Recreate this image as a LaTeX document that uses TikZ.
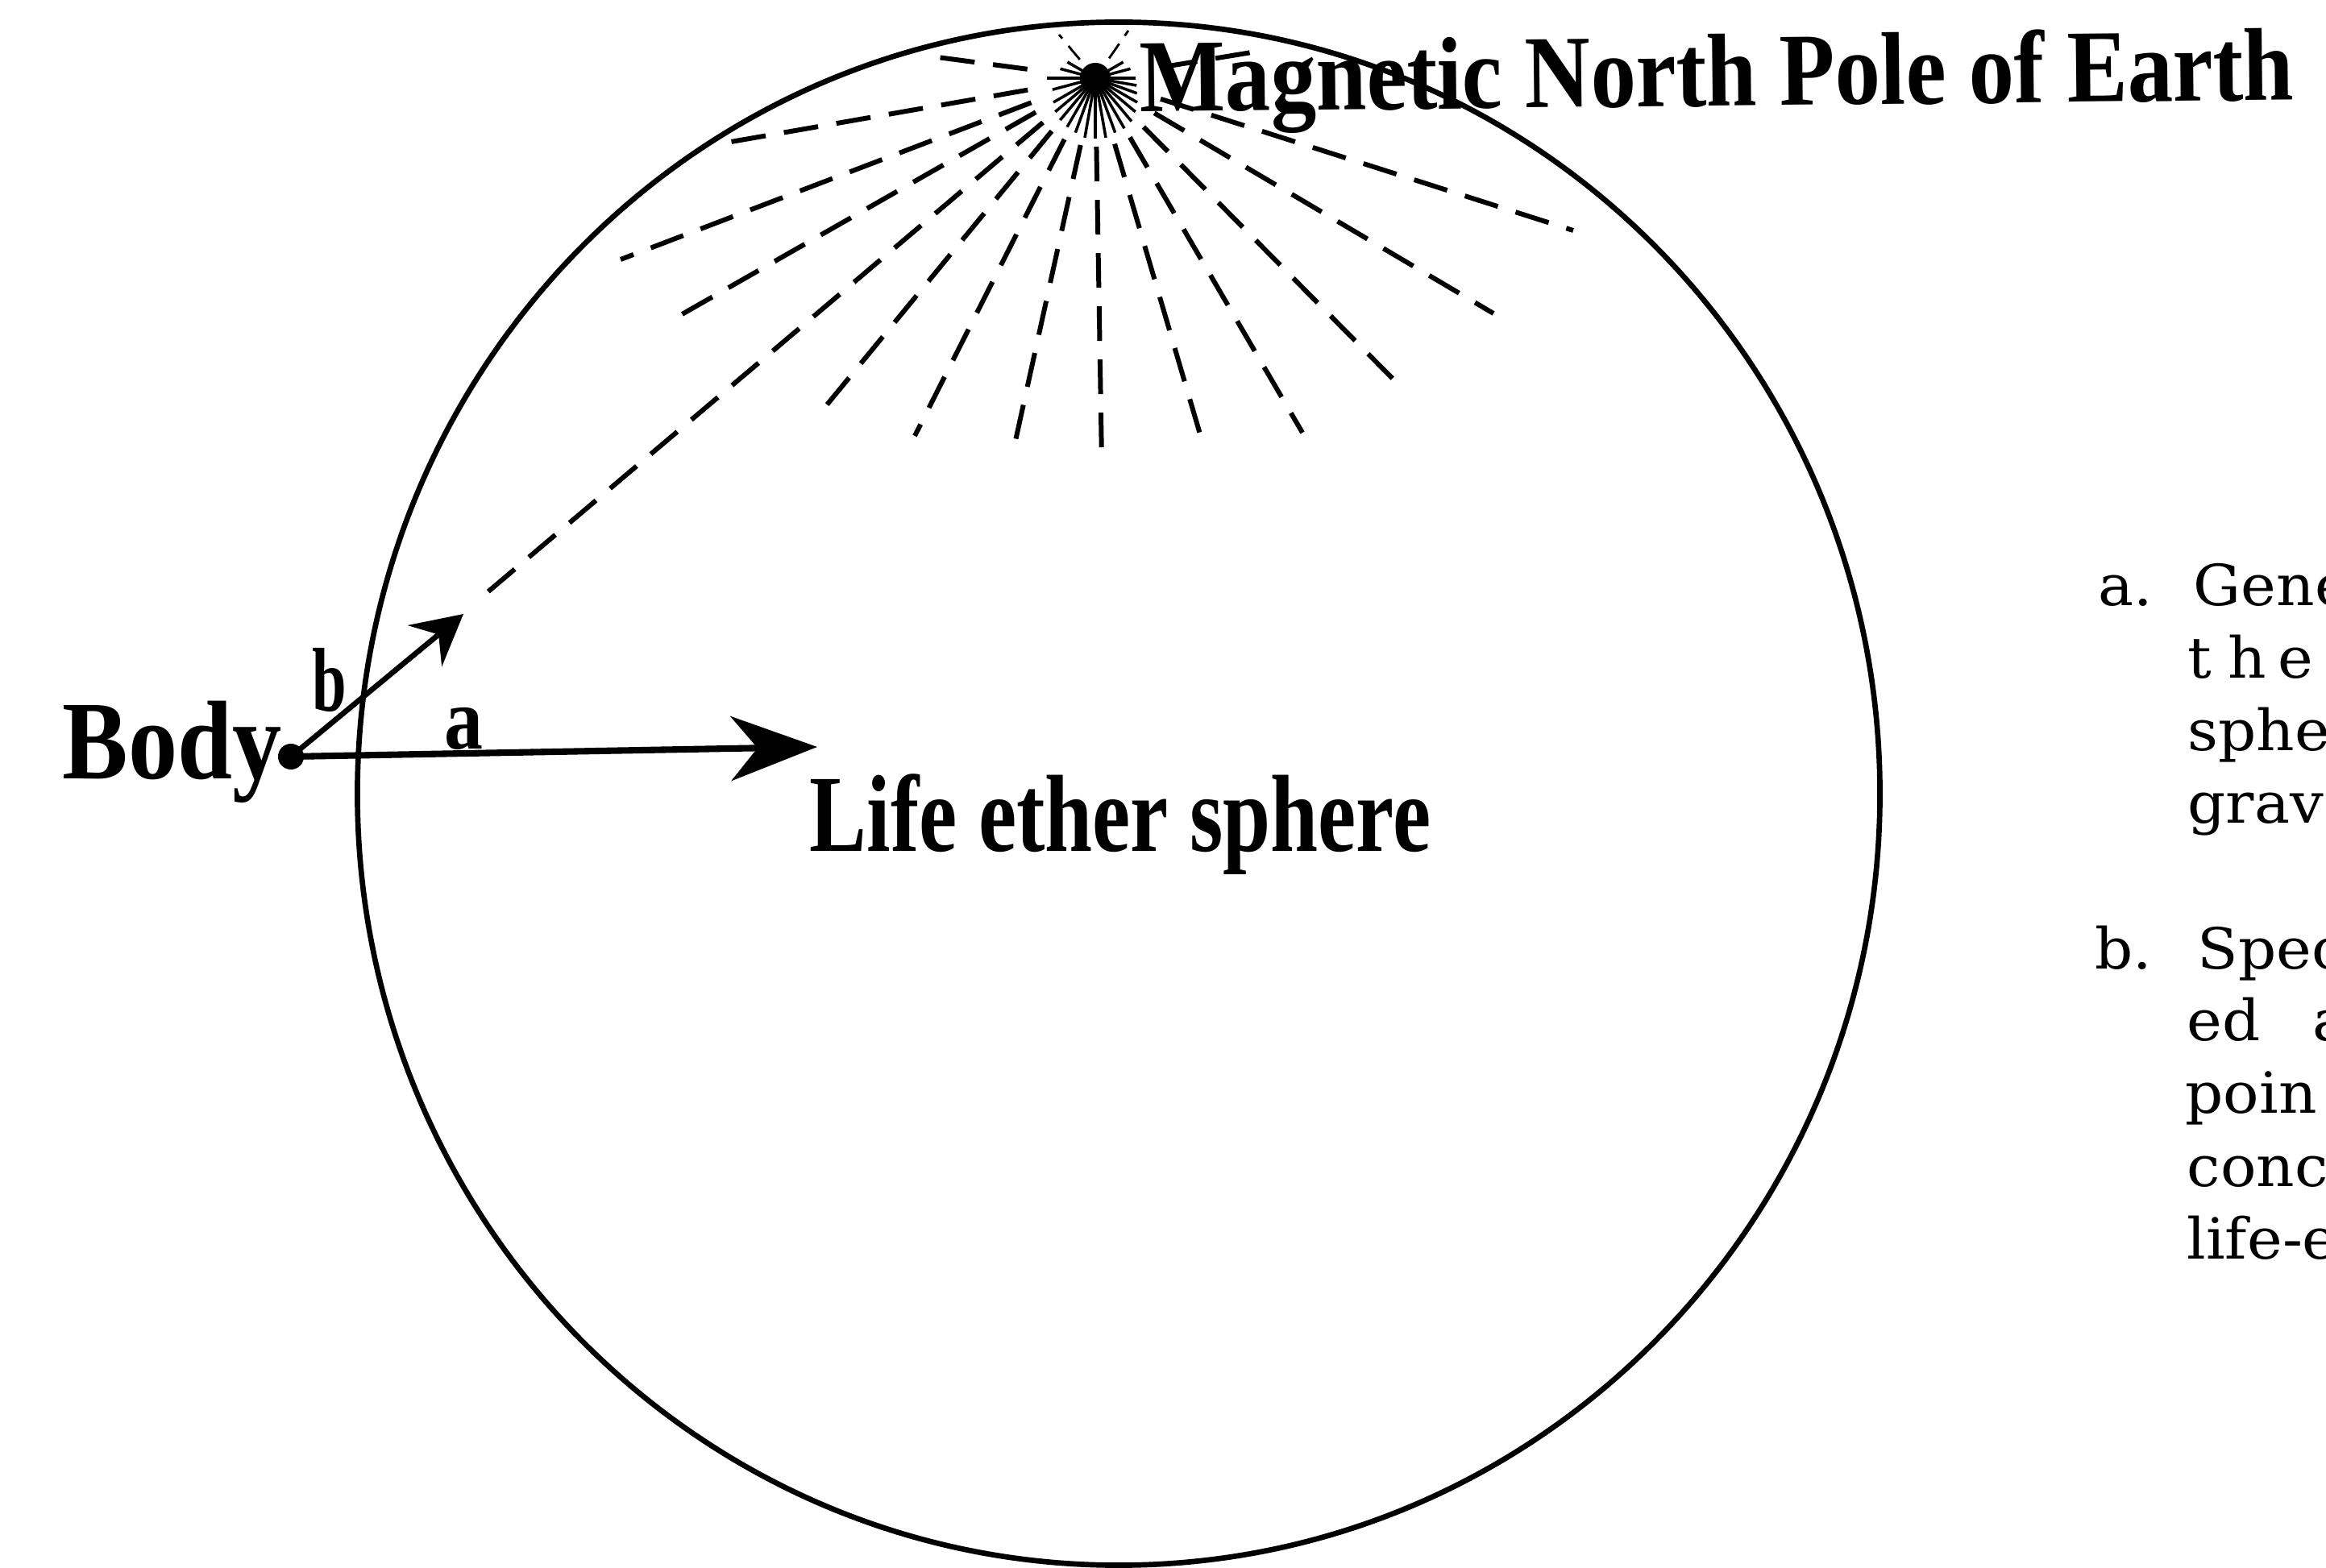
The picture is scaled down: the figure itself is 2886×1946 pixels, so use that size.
\documentclass[tikz,border=0pt]{standalone}
\usepackage{graphicx}
\usepackage{fontspec}
\setmainfont{Liberation Serif}
\newfontfamily\notefont{DejaVu Serif}
\usetikzlibrary{arrows.meta,calc}
\begin{document}
\begin{tikzpicture}[x=0.01cm,y=-0.01cm,
  rim/.style={line width=1.9pt},
  ray/.style={line width=1.7pt, dash pattern=on 0.43cm off 0.23cm},
  thinray/.style={line width=0.8pt, dash pattern=on 0.22cm off 0.12cm},
  spike/.style={line width=1pt},
  lbl/.style={inner sep=0pt, anchor=base west},
  note/.style={inner sep=0pt, anchor=base west, font=\notefont\fontsize{20pt}{24pt}\selectfont},
  bigarrow/.style={line width=2.3pt, -{Stealth[length=1.07cm,width=0.8cm,inset=0.33cm]}},
  smallarrow/.style={line width=1.9pt, -{Stealth[length=0.62cm,width=0.66cm,inset=0.22cm]}},
]
\useasboundingbox (0,0) rectangle (2886,1946);
\begin{scope}
\clip (0,0) rectangle (2886,1946);
% sphere
\draw[rim] (1388,985) ellipse [x radius=9.44cm, y radius=9.57cm];
% pole and rays
\coordinate (pole) at (1359,97);
\foreach \n/\x/\y in {1/1148/69, 2/907/176, 3/770/322, 4/841/393, 5/593/745,
  6/1023/506, 7/1135/541, 8/1256/565, 9/1367/573, 10/1492/549, 11/1616/537,
  12/1728/470, 13/1853/389, 14/1952/286, 15/1565/63, 16/1314/43, 17/1400/38}
  \coordinate (r\n) at (\x,\y);
\foreach \n in {1,...,15}
  \draw[ray] ($(pole)!0.85cm!(r\n)$) -- (r\n);
\foreach \n in {16,17}
  \draw[thinray] ($(pole)!0.3cm!(r\n)$) -- (r\n);
\fill (pole) circle [radius=0.19cm];
\foreach \a/\l in {0/50, 10/52, 20/55, 30/60, 40/65, 50/70, 60/72, 70/72, 80/75, 90/75, 100/75,
  110/72, 120/70, 130/68, 140/65, 150/60, 165/55, 180/60, 195/45, 210/40, 330/40, 345/45}
  \draw[spike] (pole) -- ++(\a:\l);
% body and arrows
\node[circle, fill, inner sep=0pt, minimum size=0.32cm] (body) at (361,939) {};
\coordinate (atip) at (1014,927);
\coordinate (btip) at (575,762);
\draw[bigarrow] (body.center) -- (atip);
\draw[smallarrow] (body.center) -- (btip);
% labels
\node[lbl, font=\bfseries\fontsize{31pt}{31pt}\selectfont] (la) at (551,930) {\scalebox{0.88}[1]{a}};
\node[lbl, font=\bfseries\fontsize{32pt}{32pt}\selectfont] (lb) at (387,883) {\scalebox{0.68}[1]{b}};
\node[lbl, font=\bfseries\fontsize{39.5pt}{40pt}\selectfont] (bodylabel) at (77,967) {\scalebox{0.88}[1]{Body}};
\node[lbl, font=\bfseries\fontsize{38.7pt}{40pt}\selectfont] (life) at (1004,1057) {\scalebox{0.78}[1]{Life ether sphere}};
\node[lbl, rotate=0.6, font=\bfseries\fontsize{36.5pt}{40pt}\selectfont] (title) at (1414,139) {\scalebox{0.877}[1]{Magnetic North Pole of Earth}};
% notes at right
\node[note] (na) at (2603,752) {\scalebox{1.05}[1]{a.}};
\node[note] (na1) at (2721,752) {\scalebox{1.05}[1]{Gene}};
\node[note] (na2) at (2714,842) {\scalebox{1.05}[1]{t\hspace{0.19cm}h\hspace{0.14cm}e}};
\node[note] (na3) at (2714,932) {\scalebox{1.05}[1]{sphe}};
\node[note] (na4) at (2714,1022) {\scalebox{1.05}[1]{grav}};
\node[note] (nb) at (2599,1203) {\scalebox{1.05}[1]{b.}};
\node[note] (nb1) at (2726,1203) {\scalebox{1.05}[1]{Spec}};
\node[note] (nb2) at (2713,1292) {\scalebox{1.05}[1]{ed}};
\node[note] (nb2a) at (2869,1292) {\scalebox{1.05}[1]{a}};
\node[note] (nb3) at (2711,1382) {\scalebox{1.05}[1]{poin}};
\node[note] (nb4) at (2713,1472) {\scalebox{1.05}[1]{conc}};
\node[note] (nb5) at (2713,1562) {\scalebox{1.05}[1]{life-e}};
\end{scope}
\end{tikzpicture}
\end{document}
